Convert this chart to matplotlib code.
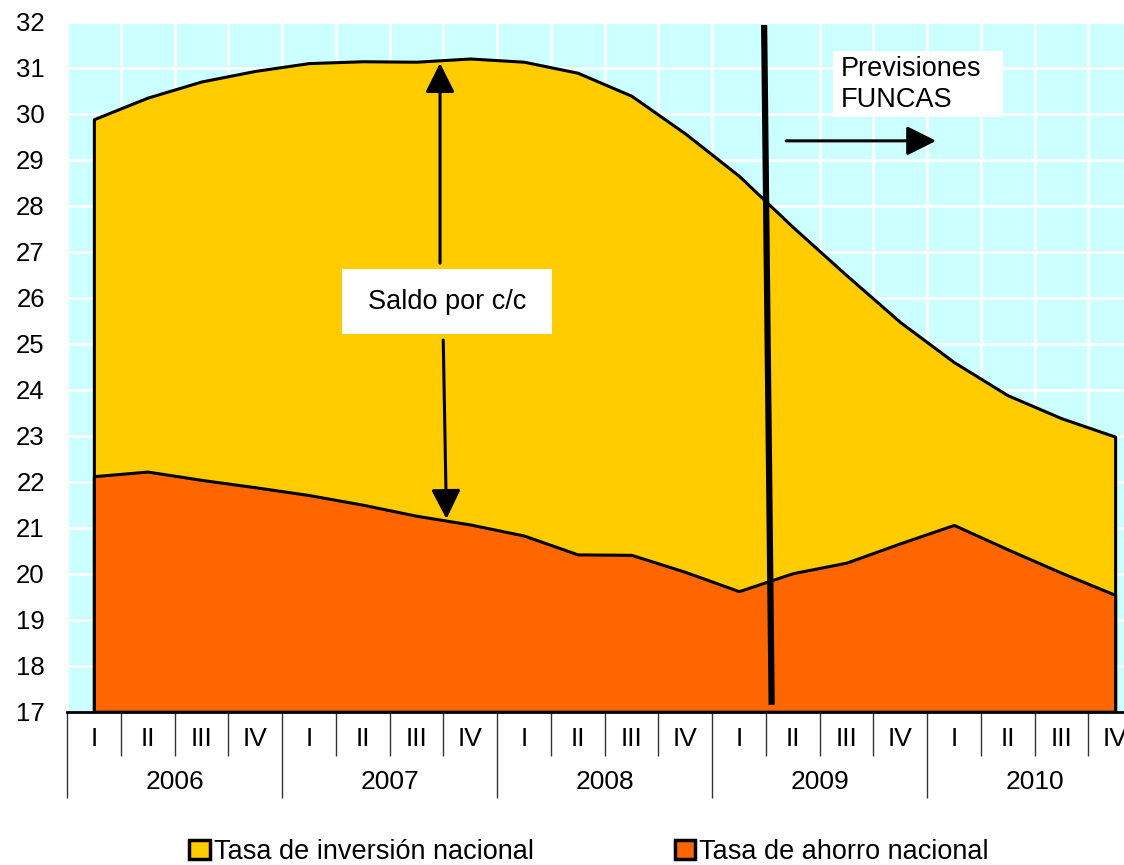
import matplotlib
matplotlib.use("Agg")
import matplotlib.pyplot as plt
from matplotlib.patches import Patch, Rectangle
import numpy as np

plt.rcParams['font.family'] = ['Liberation Sans', 'DejaVu Sans']

years = ["2006", "2007", "2008", "2009", "2010"]
quarters = ["I", "II", "III", "IV"]
inversion = [29.88, 30.35, 30.70, 30.93, 31.10, 31.14, 31.13, 31.20, 31.13, 30.89,
             30.39, 29.57, 28.65, 27.54, 26.49, 25.47, 24.60, 23.88, 23.38, 22.98]
ahorro = [22.12, 22.22, 22.04, 21.88, 21.71, 21.50, 21.26, 21.07, 20.83, 20.42,
          20.41, 20.04, 19.62, 20.01, 20.24, 20.66, 21.06, 20.53, 20.02, 19.54]
serie_inv = "Tasa de inversión nacional"
serie_aho = "Tasa de ahorro nacional"

W, H = 1124, 865
fig = plt.figure(figsize=(W / 100, H / 100), dpi=100)
left, right, top, bottom = 67, 67 + 20 * 53.75, 21.7, 711.7
ax = fig.add_axes([left / W, 1 - bottom / H, (right - left) / W, (bottom - top) / H])

n = len(inversion)
x = np.arange(n)
ymin, ymax = 17, 32
ax.set_xlim(-0.5, n - 0.5)
ax.set_ylim(ymin, ymax)
ax.set_facecolor('#CCFFFF')

# grid
ax.set_yticks(np.arange(ymin, ymax + 1, 1))
ax.set_xticks(np.arange(0, n + 1, 4) - 0.5)
ax.set_xticks(np.arange(0, n + 1) - 0.5, minor=True)
ax.grid(True, which='both', color='white', linewidth=2.0)
ax.set_axisbelow(True)

ax.fill_between(x, ymin, inversion, facecolor='#FFCC00', edgecolor='black', linewidth=2.2, zorder=2)
ax.fill_between(x, ymin, ahorro, facecolor='#FF6600', edgecolor='black', linewidth=2.2, zorder=3)

for s in ['left', 'top', 'right']:
    ax.spines[s].set_visible(False)
ax.spines['bottom'].set_linewidth(2.0)
ax.spines['bottom'].set_zorder(5)

ax.tick_params(axis='y', length=0, pad=16, labelsize=18.5)
ax.tick_params(axis='x', which='major', length=62, width=1.0, color='#333333', labelbottom=False)
ax.tick_params(axis='x', which='minor', length=32, width=1.0, color='#333333', labelbottom=False)

tr = ax.get_xaxis_transform()
for i in range(n):
    ax.text(i, -0.039, quarters[i % 4], transform=tr, ha='center', va='center', fontsize=19)
for j, yr in enumerate(years):
    ax.text(4 * j + 1.5, -0.102, yr, transform=tr, ha='center', va='center', fontsize=19)

# forecast divider
ax.plot([12.47, 12.61], [31.93, 17.15], color='black', linewidth=4.5, solid_capstyle='butt', zorder=6)

# Saldo por c/c box and arrows
ax.add_patch(Rectangle((4.62, 25.21), 3.90, 1.41, facecolor='white', edgecolor='none', zorder=6))
ax.text(6.57, 25.91, "Saldo por c/c", ha='center', va='center', fontsize=19.5, zorder=7)
ax.annotate("", xy=(6.44, 31.10), xytext=(6.44, 26.75),
            arrowprops=dict(arrowstyle='-|>,head_length=0.9,head_width=0.45', color='black', lw=2.2,
                            shrinkA=0, shrinkB=0, mutation_scale=20), zorder=7)
ax.annotate("", xy=(6.56, 21.19), xytext=(6.50, 25.08),
            arrowprops=dict(arrowstyle='-|>,head_length=0.9,head_width=0.45', color='black', lw=2.2,
                            shrinkA=0, shrinkB=0, mutation_scale=20), zorder=7)

# Previsiones FUNCAS box and arrow
ax.add_patch(Rectangle((13.75, 29.93), 3.16, 1.43, facecolor='white', edgecolor='none', zorder=6))
ax.text(13.90, 30.63, "Previsiones\nFUNCAS", ha='left', va='center', fontsize=19.5, linespacing=1.25, zorder=7)
ax.annotate("", xy=(15.67, 29.41), xytext=(12.88, 29.41),
            arrowprops=dict(arrowstyle='-|>,head_length=0.9,head_width=0.45', color='black', lw=2.2,
                            shrinkA=0, shrinkB=0, mutation_scale=20), zorder=7)

handles = [Patch(facecolor='#FFCC00', edgecolor='black', linewidth=2.5, label=serie_inv),
           Patch(facecolor='#FF6600', edgecolor='black', linewidth=2.5, label=serie_aho)]
fig.legend(handles=handles, loc='center', bbox_to_anchor=(589 / W, 1 - 852 / H), ncol=2,
           frameon=False, fontsize=19.5, handlelength=0.75, handleheight=0.75, handletextpad=0.15,
           columnspacing=5.2, borderpad=0)

fig.savefig("out.png", dpi=100)
